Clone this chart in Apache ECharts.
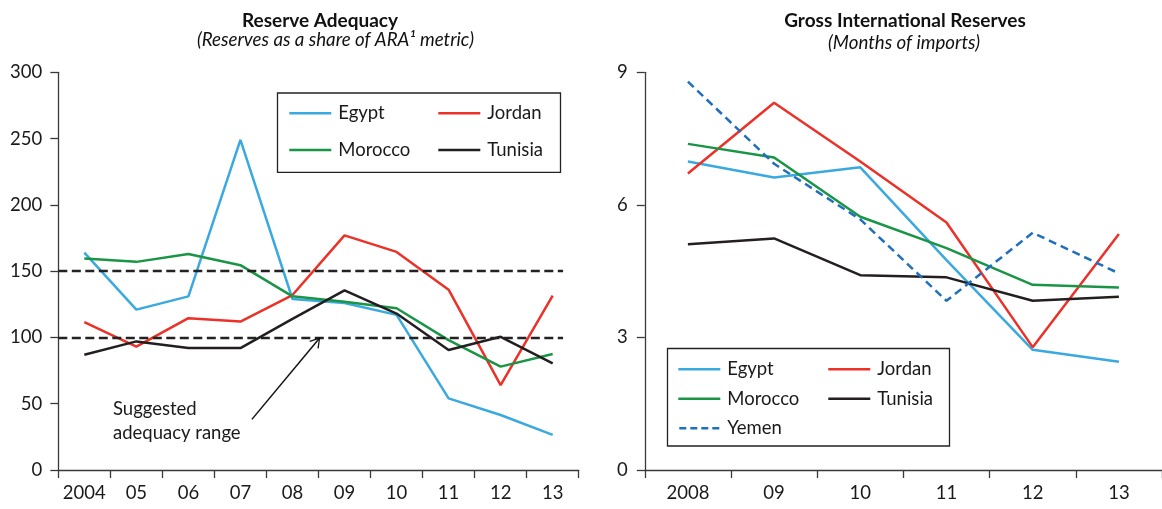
<!DOCTYPE html>
<html>
<head>
<meta charset="utf-8">
<script src="https://cdn.jsdelivr.net/npm/echarts@6/dist/echarts.min.js"></script>
<style>
html,body{margin:0;padding:0;background:#fff;}
#c{width:1162px;height:509px;}
</style>
</head>
<body>
<div id="c"></div>
<script>
// ---- data ----
const leftCategories = ['2004','05','06','07','08','09','10','11','12','13'];
const leftEgypt   = [164, 121, 131, 249, 129, 126, 117, 54, 41.5, 26.5];
const leftJordan  = [111.5, 93, 114.5, 112, 132, 177, 164.5, 136, 64, 131.5];
const leftMorocco = [159.5, 157, 163, 154.5, 131, 127, 122, 98, 78, 87.5];
const leftTunisia = [87, 97, 92, 92, 114, 135.5, 118, 90.5, 100.5, 80.5];
const leftTicks = {min: 0, max: 300, interval: 50};
const adequacyBounds = [150, 100];
const arrowFrom = [3.22, 38.2];
const arrowTo = [4.53, 100];

const rightCategories = ['2008','09','10','11','12','13'];
const rightEgypt   = [6.98, 6.62, 6.85, 4.75, 2.72, 2.45];
const rightJordan  = [6.71, 8.31, 6.98, 5.6, 2.78, 5.34];
const rightMorocco = [7.38, 7.07, 5.73, 5.02, 4.19, 4.13];
const rightTunisia = [5.11, 5.24, 4.41, 4.36, 3.83, 3.92];
const rightYemen   = [8.79, 6.93, 5.67, 3.83, 5.37, 4.45];
const rightTicks = {min: 0, max: 9, interval: 3};

const COLORS = {Egypt:'#3aa9e0', Jordan:'#ec3128', Morocco:'#1a9546', Tunisia:'#231f20', Yemen:'#1f6fbd'};
const FONT = 'Lato, "Noto Sans", sans-serif';
const AX = '#3a3a3a';

function lineSeries(name, data, xi, yi, dashed){
  return {
    name: name, type: 'line', data: data, xAxisIndex: xi, yAxisIndex: yi,
    symbol: 'none', smooth: false, z: 3,
    lineStyle: {color: COLORS[name], width: 2.5, type: dashed ? [8,5] : 'solid'},
    itemStyle: {color: COLORS[name]},
    emphasis: {disabled: true}
  };
}

const catAxis = (gi, cats) => ({
  type: 'category', gridIndex: gi, data: cats, boundaryGap: true,
  axisLine: {show: true, onZero: false, lineStyle: {color: AX, width: 1.3}},
  axisTick: {show: true, length: 8, interval: 0, lineStyle: {color: AX, width: 1.3}},
  axisLabel: {color: '#1a1a1a', fontSize: 18.5, fontFamily: FONT, margin: 14, interval: 0},
  splitLine: {show: false}
});
const valAxis = (gi, t, margin) => ({
  type: 'value', gridIndex: gi, min: t.min, max: t.max, interval: t.interval,
  axisLine: {show: true, onZero: false, lineStyle: {color: AX, width: 1.3}},
  axisTick: {show: true, length: 8, lineStyle: {color: AX, width: 1.3}},
  axisLabel: {color: '#1a1a1a', fontSize: 18.5, fontFamily: FONT, margin: margin},
  splitLine: {show: false}
});

const chevron = 'path://M0,-10 L0.001,-10 L0,-10 Z M0,0 L6,10 L4.9,10.7 L0,2.3 L-4.9,10.7 L-6,10 Z';
const solidIcon = 'rect';
const dashIcon = 'path://M0,0h7v2.5h-7z M11,0h7v2.5h-7z M22,0h7v2.5h-7z M33,0h7v2.5h-7z';

const helper = {
  name: '__helper', type: 'line', xAxisIndex: 1, yAxisIndex: 0, data: [],
  symbol: 'none', silent: true, z: 4,
  markLine: {
    silent: true, animation: false, symbol: ['none','none'],
    label: {show: false}, emphasis: {disabled: true},
    data: [
      [{coord: [-0.5, adequacyBounds[0]], lineStyle: {color: '#222', width: 2.3, type: [9,4.5]}},
       {coord: [9.2, adequacyBounds[0]]}],
      [{coord: [-0.5, adequacyBounds[1]], lineStyle: {color: '#222', width: 2.3, type: [9,4.5]}},
       {coord: [9.2, adequacyBounds[1]]}],
      [{coord: arrowFrom, symbol: 'none', lineStyle: {color: '#111', width: 1.5, type: 'solid'}},
       {coord: arrowTo, symbol: chevron, symbolSize: [12, 20]}]
    ]
  }
};

const legendCommon = {
  orient: 'vertical', padding: 0, itemWidth: 42, itemHeight: 2.5,
  selectedMode: false, z: 10,
  textStyle: {fontSize: 18.5, fontFamily: FONT, color: '#1a1a1a', lineHeight: 20, padding: [0,0,0,2]}
};
const li = (name) => ({name: name, icon: name === 'Yemen' ? dashIcon : solidIcon});

const option = {
  animation: false,
  backgroundColor: '#fff',
  grid: [
    {left: 58.3, top: 72.3, width: 520.4, height: 397.7},
    {left: 644.8, top: 72.3, width: 520, height: 397.7}
  ],
  xAxis: [
    catAxis(0, leftCategories),
    {type: 'value', gridIndex: 0, min: -0.5, max: 9.5, show: false, position: 'top'},
    catAxis(1, rightCategories)
  ],
  yAxis: [
    valAxis(0, leftTicks, 16),
    valAxis(1, rightTicks, 17)
  ],
  legend: [
    Object.assign({}, legendCommon, {data: ['Egypt','Morocco'].map(li), left: 289.3, top: 103.3, itemGap: 16.7}),
    Object.assign({}, legendCommon, {data: ['Jordan','Tunisia'].map(li), left: 438.3, top: 103.3, itemGap: 16.7}),
    Object.assign({}, legendCommon, {data: ['Egypt','Morocco','Yemen'].map(li), left: 678.3, top: 359.3, itemGap: 9.5}),
    Object.assign({}, legendCommon, {data: ['Jordan','Tunisia'].map(li), left: 828.3, top: 359.3, itemGap: 9.5})
  ],
  series: [
    lineSeries('Egypt', leftEgypt, 0, 0),
    lineSeries('Jordan', leftJordan, 0, 0),
    lineSeries('Morocco', leftMorocco, 0, 0),
    lineSeries('Tunisia', leftTunisia, 0, 0),
    helper,
    lineSeries('Egypt', rightEgypt, 2, 1),
    lineSeries('Jordan', rightJordan, 2, 1),
    lineSeries('Morocco', rightMorocco, 2, 1),
    lineSeries('Tunisia', rightTunisia, 2, 1),
    lineSeries('Yemen', rightYemen, 2, 1, true)
  ],
  graphic: [
    {type: 'rect', shape: {x: 277.5, y: 93, width: 283, height: 79.3}, style: {fill: '#fff', stroke: '#222', lineWidth: 1.3}, z: 5, silent: true},
    {type: 'rect', shape: {x: 667.5, y: 348.5, width: 282, height: 97.5}, style: {fill: '#fff', stroke: '#222', lineWidth: 1.3}, z: 5, silent: true},
    {type: 'text', x: 320, y: 20.5, style: {text: 'Reserve Adequacy', font: 'bold 19px ' + FONT, fill: '#111', textAlign: 'center', textVerticalAlign: 'middle'}},
    {type: 'text', x: 335.5, y: 39.5, style: {text: '(Reserves as a share of ARA\u00B9 metric)', font: 'italic 18.7px ' + FONT, fill: '#111', textAlign: 'center', textVerticalAlign: 'middle'}},
    {type: 'text', x: 905, y: 20.5, style: {text: 'Gross International Reserves', font: 'bold 19px ' + FONT, fill: '#111', textAlign: 'center', textVerticalAlign: 'middle'}},
    {type: 'text', x: 904, y: 43, style: {text: '(Months of imports)', font: 'italic 18.7px ' + FONT, fill: '#111', textAlign: 'center', textVerticalAlign: 'middle'}},
    {type: 'text', x: 113, y: 409, style: {text: 'Suggested', font: '18.5px ' + FONT, fill: '#1a1a1a', textAlign: 'left', textVerticalAlign: 'middle'}},
    {type: 'text', x: 113, y: 433, style: {text: 'adequacy range', font: '18.5px ' + FONT, fill: '#1a1a1a', textAlign: 'left', textVerticalAlign: 'middle'}}
  ]
};

const chart = echarts.init(document.getElementById('c'), null, {renderer: 'canvas'});
chart.setOption(option);
</script>
</body>
</html>
